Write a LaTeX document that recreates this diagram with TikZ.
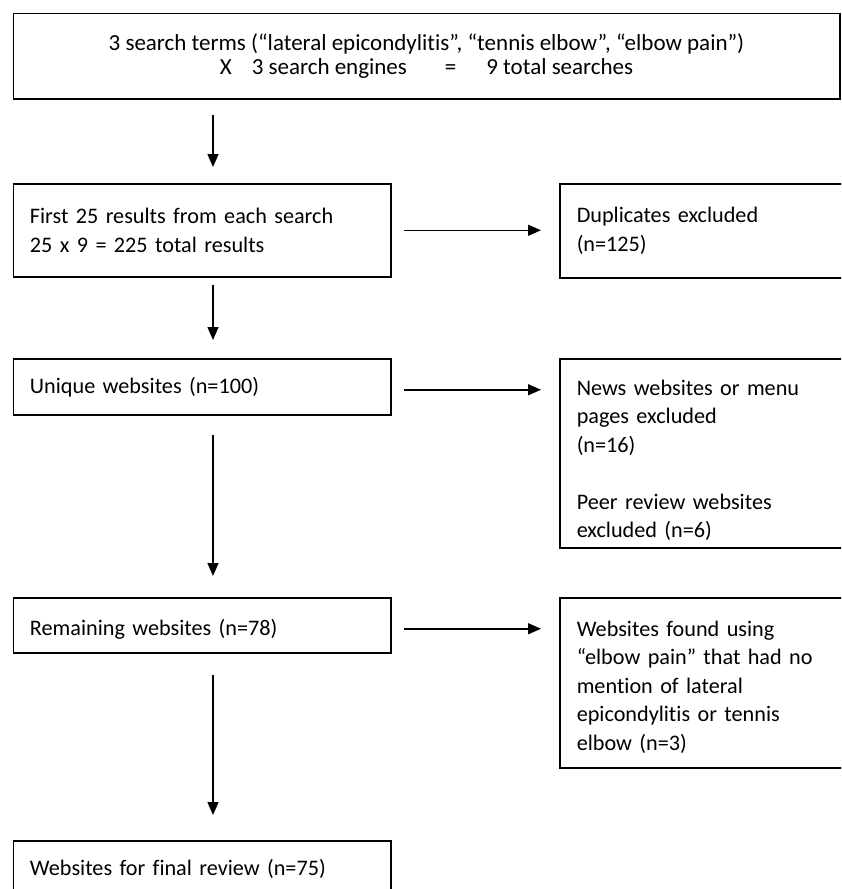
\documentclass[tikz,border=0pt]{standalone}
\usepackage{fontspec}
\setmainfont{Carlito}[Ligatures={NoCommon}]
\usetikzlibrary{arrows.meta}
\newcommand{\lift}[1]{\rule{0pt}{#1}}
\begin{document}
\begin{tikzpicture}[x=1pt,y=-1pt,
  box/.style={draw, line width=1.5pt, rectangle, font=\fontsize{22.2}{28.5}\selectfont},
  leftbox/.style={box, anchor=north west, inner xsep=16.5pt, inner ysep=0pt, text width=344.3pt, align=left, minimum width=377.3pt},
  rightbox/.style={box, anchor=north west, inner xsep=17pt, inner ysep=0pt, text width=330pt, align=left, minimum width=364pt},
  arr/.style={line width=1.5pt, -{Triangle[length=13pt,width=11pt]}}]
\useasboundingbox (0,0) rectangle (841,889);
\clip (0,0) rectangle (841,889);
\coordinate (ax) at (213,0);

\node[box, anchor=north west, minimum width=826.5pt, minimum height=85.3pt, inner sep=0pt,
      align=center, font=\fontsize{23}{24}\selectfont] (top) at (12.5,12.7)
  {\lift{14pt}3 search terms (“lateral epicondylitis”, “tennis elbow”, “elbow pain”)\\
   X\hspace{20pt}3 search engines\hspace{38pt}=\hspace{30pt}9 total searches};

\node[leftbox, minimum height=93pt] (first) at (12.7,183)
  {First 25 results from each search\\25 x 9 = 225 total results};
\node[rightbox, minimum height=94pt] (dup) at (559,183)
  {Duplicates excluded\\(n=125)};

\node[leftbox, minimum height=56pt] (unique) at (12.7,358)
  {Unique websites (n=100)};
\node[rightbox, minimum height=189pt] (news) at (559,358)
  {\lift{30pt}News websites or menu\\pages excluded\\(n=16)\\[28.5pt]Peer review websites\\excluded (n=6)};

\node[leftbox, minimum height=55pt] (remain) at (12.7,597)
  {\lift{25pt}Remaining websites (n=78)};
\node[rightbox, minimum height=170pt] (found) at (559,597)
  {\lift{24pt}Websites found using\\“elbow pain” that had no\\mention of lateral\\epicondylitis or tennis\\elbow (n=3)};

\node[leftbox, minimum height=56pt] (final) at (12.7,840)
  {Websites for final review (n=75)};

\draw[arr, shorten <=15pt, shorten >=16pt] (top.south -| ax) -- (first.north -| ax);
\draw[arr, shorten <=7pt, shorten >=18pt] (first.south -| ax) -- (unique.north -| ax);
\draw[arr, shorten <=19pt, shorten >=21pt] (unique.south -| ax) -- (remain.north -| ax);
\draw[arr, shorten <=21pt, shorten >=25pt] (remain.south -| ax) -- (final.north -| ax);

\draw[arr, shorten <=12pt, shorten >=18pt] (first.east) -- (first.east -| dup.west);
\draw[arr, shorten <=12pt, shorten >=18pt] ([yshift=-3pt]unique.east) -- ([yshift=-3pt]unique.east -| news.west);
\draw[arr, shorten <=12pt, shorten >=18pt] ([yshift=-3.5pt]remain.east) -- ([yshift=-3.5pt]remain.east -| found.west);
\end{tikzpicture}
\end{document}
